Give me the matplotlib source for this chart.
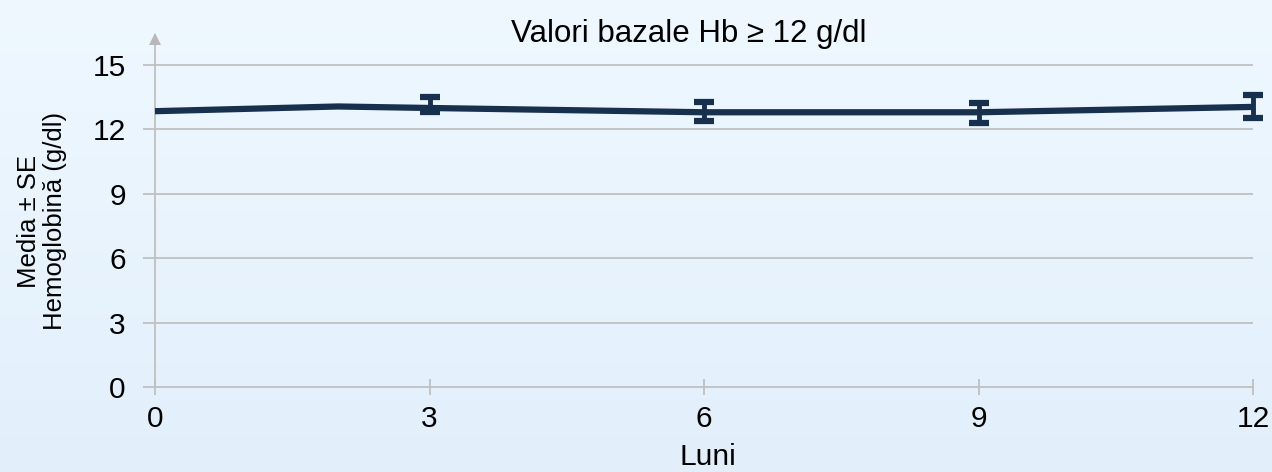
import numpy as np
import matplotlib
matplotlib.use("Agg")
import matplotlib.pyplot as plt
from matplotlib.colors import LinearSegmentedColormap

plt.rcParams['font.family'] = ['Liberation Sans', 'DejaVu Sans']

title = "Valori bazale Hb ≥ 12 g/dl"
x_label = "Luni"
y_label = "Media ± SE\nHemoglobină (g/dl)"

months = [0, 2, 3, 6, 9, 12]
hb_mean = [12.85, 13.07, 13.0, 12.8, 12.8, 13.05]

err_months = [3, 6, 9, 12]
err_mean = [13.0, 12.8, 12.8, 13.05]
err_low = [0.2, 0.42, 0.48, 0.5]
err_high = [0.52, 0.5, 0.45, 0.55]

xticks = [0, 3, 6, 9, 12]
yticks = [0, 3, 6, 9, 12, 15]

line_color = "#17304d"
grid_color = "#c0c0c0"

fig = plt.figure(figsize=(12.72, 4.72), dpi=100)
# gradient background
bg = fig.add_axes([0, 0, 1, 1], zorder=-10)
cmap = LinearSegmentedColormap.from_list("bg", ["#e2effb", "#eff8ff"])
bg.imshow(np.linspace(0, 1, 256).reshape(-1, 1), aspect='auto', cmap=cmap,
          origin='lower', extent=[0, 1, 0, 1])
bg.set_axis_off()

ax = fig.add_axes([155/1272, 1-387/472, (1253-155)/1272, (387-35)/472])
ax.patch.set_alpha(0)
ax.set_xlim(0, 12)
ax.set_ylim(0, 16.4)

for y in yticks[1:]:
    ax.axhline(y, color=grid_color, lw=1.3, zorder=1)

ax.plot(months, hb_mean, color=line_color, lw=4.5, zorder=3, solid_capstyle='butt',
        clip_on=False)
ax.errorbar(err_months, err_mean, yerr=[err_low, err_high], fmt='none',
            ecolor=line_color, elinewidth=3.5, capsize=7.5, capthick=4.5,
            zorder=4, clip_on=False)

for s in ['top', 'right']:
    ax.spines[s].set_visible(False)
ax.spines['left'].set_color(grid_color)
ax.spines['left'].set_linewidth(1.3)
ax.spines['bottom'].set_color(grid_color)
ax.spines['bottom'].set_linewidth(1.3)
ax.plot([0], [16.2], marker='^', markersize=9, color='#b8b8b8', clip_on=False,
        zorder=5, markeredgewidth=0)

ax.set_xticks(xticks)
ax.set_yticks(yticks)
ax.tick_params(axis='y', direction='out', length=9, width=1.3, color=grid_color,
               labelsize=21.5, pad=12)
ax.tick_params(axis='x', direction='inout', length=11, width=1.3, color=grid_color,
               labelsize=21.5, pad=7.5)

fig.text(689/1272, 1-42/472, title, ha='center', va='baseline', fontsize=22.5)
fig.text(708/1272, 1/472, x_label, ha='center', va='bottom', fontsize=21.5)
fig.text(42/1272, 1-221/472, y_label, ha='center', va='center', fontsize=18.5,
         rotation=90, linespacing=1.1)

fig.savefig("out.png", dpi=100)
